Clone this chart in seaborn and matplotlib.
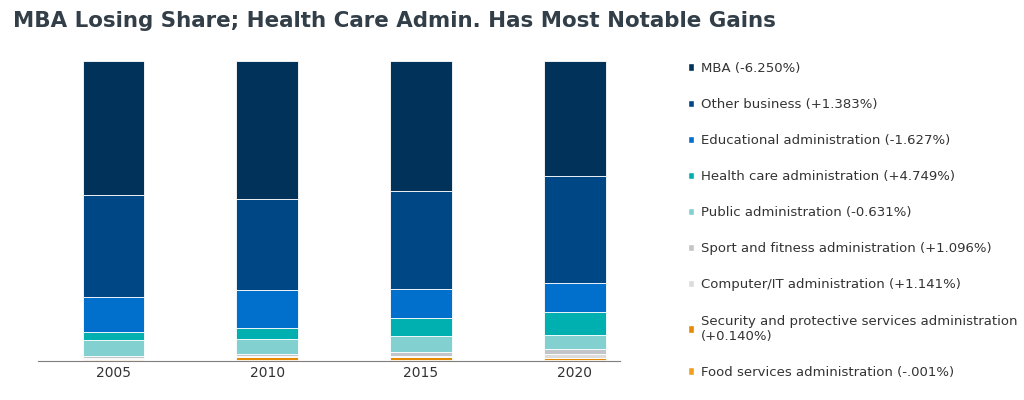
import numpy as np
import seaborn as sns
import matplotlib.pyplot as plt
from matplotlib.patches import Patch

years = ['2005', '2010', '2015', '2020']
labels = ['MBA (-6.250%)', 'Other business (+1.383%)', 'Educational administration (-1.627%)',
          'Health care administration (+4.749%)', 'Public administration (-0.631%)',
          'Sport and fitness administration (+1.096%)', 'Computer/IT administration (+1.141%)',
          'Security and protective services administration\n(+0.140%)',
          'Food services administration (-.001%)']
colors = ['#00325a', '#004785', '#0070cc', '#00b0b0', '#82d0d0',
          '#c2c6ca', '#dcdcdc', '#e88a00', '#f0a020']

mba = [44.7, 46.0, 43.3, 38.3]
other = [34.0, 30.3, 32.7, 35.7]
edu = [11.7, 12.7, 9.7, 9.7]
health = [2.7, 3.7, 6.0, 7.7]
public = [5.3, 5.0, 5.3, 4.7]
sport = [0.7, 0.7, 1.3, 1.6]
computer = [0.3, 0.3, 0.4, 1.4]
security = [0.4, 1.0, 1.0, 0.6]
food = [0.2, 0.3, 0.3, 0.3]

# stacked bottom-up
series = [food, security, computer, sport, public, health, edu, other, mba]
series_colors = colors[::-1]

sns.set_style('white')
fig = plt.figure(figsize=(10.24, 4.0), dpi=100)
ax = fig.add_axes([0.037, 0.0975, 0.568, 0.75])

bottom = np.zeros(len(years))
for vals, c in zip(series, series_colors):
    ax.bar(years, vals, bottom=bottom, width=0.4, color=c, edgecolor='white', linewidth=0.6)
    bottom += np.array(vals)

ax.set_ylim(0, 100)
ax.set_xlim(-0.49, 3.29)
sns.despine(ax=ax, left=True)
ax.spines['bottom'].set_color('#7f7f7f')
ax.set_yticks([])
ax.tick_params(axis='x', length=0, labelsize=10, colors='#333333')

fig.text(0.013, 0.948, 'MBA Losing Share; Health Care Admin. Has Most Notable Gains',
         fontsize=15.4, fontweight='bold', color='#333f48', va='center')

handles = [Patch(facecolor=c) for c in colors]
fig.legend(handles, labels, loc='upper left', bbox_to_anchor=(0.66, 0.875), frameon=False,
           fontsize=9.5, handlelength=0.5, handleheight=0.5, handletextpad=0.5,
           labelspacing=1.75, labelcolor='#333333')

fig.savefig('out.png', dpi=100)
